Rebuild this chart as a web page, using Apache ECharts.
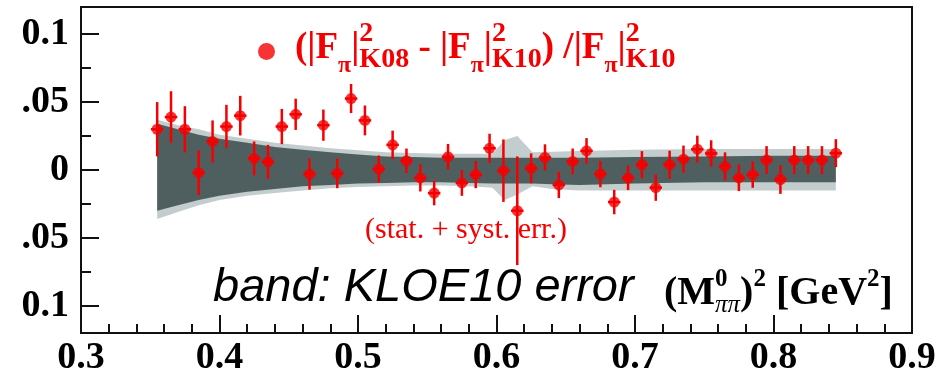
<!DOCTYPE html>
<html>
<head>
<meta charset="utf-8">
<script src="https://cdn.jsdelivr.net/npm/echarts@6/dist/echarts.min.js"></script>
<style>
  html, body { margin: 0; background: #fff; }
  #chart { width: 951px; height: 379px; }
</style>
</head>
<body>
<div id="chart"></div>
<script>
// ticks
const xTicks = [0.3, 0.4, 0.5, 0.6, 0.7, 0.8, 0.9];
const xTickLabels = ['0.3', '0.4', '0.5', '0.6', '0.7', '0.8', '0.9'];
const yTicks = [-0.1, -0.05, 0, 0.05, 0.1];
const yTickLabels = ['0.1', '.05', '0', '.05', '0.1'];
const yMinorTicks = [-0.075, -0.025, 0.025, 0.075];

// data points: (|F|^2 K08 - |F|^2 K10) / |F|^2 K10
const pointX = [0.355, 0.365, 0.375, 0.385, 0.395, 0.405, 0.415, 0.425, 0.435, 0.445,
                0.455, 0.465, 0.475, 0.485, 0.495, 0.505, 0.515, 0.525, 0.535, 0.545,
                0.555, 0.565, 0.575, 0.585, 0.595, 0.605, 0.615, 0.625, 0.635, 0.645,
                0.655, 0.665, 0.675, 0.685, 0.695, 0.705, 0.715, 0.725, 0.735, 0.745,
                0.755, 0.765, 0.775, 0.785, 0.795, 0.805, 0.815, 0.825, 0.835, 0.845];
const pointY = [0.030, 0.039, 0.030, -0.002, 0.021, 0.032, 0.040, 0.0085, 0.006, 0.032,
                0.041, -0.003, 0.033, -0.0024, 0.0526, 0.0365, 0.0007, 0.0185, 0.0068, -0.0058,
                -0.017, 0.0097, -0.0095, -0.0034, 0.016, -0.0005, -0.030, 0.0012, 0.0092, -0.011,
                0.0063, 0.0141, -0.003, -0.0236, -0.0058, 0.0039, -0.013, 0.0039, 0.008, 0.0153,
                0.0122, 0.0027, -0.0058, -0.0034, 0.0073, -0.007, 0.0073, 0.0073, 0.0073, 0.0124];
const pointErr = [0.020, 0.019, 0.017, 0.0165, 0.0155, 0.016, 0.0146, 0.0125, 0.0125, 0.013,
                  0.0115, 0.0115, 0.0115, 0.011, 0.0107, 0.011, 0.010, 0.0105, 0.009, 0.010,
                  0.009, 0.0095, 0.0095, 0.010, 0.0107, 0.023, 0.040, 0.011, 0.0097, 0.0097,
                  0.0095, 0.0094, 0.0097, 0.009, 0.009, 0.010, 0.0097, 0.0103, 0.010, 0.010,
                  0.0097, 0.0103, 0.0097, 0.0097, 0.0103, 0.0106, 0.0103, 0.0103, 0.0103, 0.0103];
const binHalf = 0.0045;

// KLOE10 error band
const bandX   = [0.355, 0.37, 0.385, 0.40, 0.42, 0.44, 0.46, 0.48, 0.50, 0.52, 0.54, 0.56,
                 0.58, 0.597, 0.606, 0.615, 0.626, 0.64, 0.66, 0.70, 0.75, 0.80, 0.845];
const lightHi = [0.037, 0.033, 0.030, 0.026, 0.023, 0.020, 0.018, 0.016, 0.0145, 0.013, 0.0125, 0.012,
                 0.012, 0.012, 0.022, 0.025, 0.013, 0.0135, 0.014, 0.015, 0.0155, 0.0155, 0.0155];
const lightLo = [-0.036, -0.031, -0.026, -0.022, -0.019, -0.017, -0.015, -0.0135, -0.0125, -0.012, -0.0115, -0.0115,
                 -0.012, -0.013, -0.022, -0.018, -0.012, -0.014, -0.015, -0.015, -0.015, -0.015, -0.015];
const darkHi  = [0.034, 0.030, 0.026, 0.023, 0.020, 0.017, 0.015, 0.013, 0.0115, 0.010, 0.0095, 0.009,
                 0.009, 0.009, 0.009, 0.009, 0.009, 0.009, 0.009, 0.0095, 0.010, 0.0105, 0.0105];
const darkLo  = [-0.030, -0.026, -0.022, -0.019, -0.016, -0.014, -0.012, -0.011, -0.010, -0.0095, -0.009, -0.009,
                 -0.0095, -0.010, -0.010, -0.010, -0.010, -0.0105, -0.011, -0.010, -0.009, -0.009, -0.009];

const RED = '#f50000';
const SERIF = 'Liberation Serif';

const pickLabel = (ticks, labels) => v => {
    const i = ticks.findIndex(t => Math.abs(t - v) < 1e-9);
    return i < 0 ? '' : labels[i];
};

// lay out text pieces with sub/superscripts side by side
const measureCtx = document.createElement('canvas').getContext('2d');
function formula(x0, yMid, parts, fill) {
    const out = [];
    let x = x0, lastX = x0;
    parts.forEach(p => {
        const font = `${p.it ? 'italic ' : ''}${p.b === false ? 'normal' : 'bold'} ${p.s}px "${p.f || SERIF}"`;
        measureCtx.font = font;
        const w = measureCtx.measureText(p.t).width;
        let px;
        if (p.stack) {
            px = lastX;
            x = Math.max(x, lastX + w);
        } else {
            px = x;
            lastX = x;
            x += w;
        }
        out.push({
            type: 'text', x: px, y: yMid + (p.dy || 0), z: 100,
            style: { text: p.t, font: font, fill: fill, verticalAlign: 'middle', align: 'left' }
        });
    });
    return out;
}

const legendParts = [
    { t: '(|F', s: 37 }, { t: 'π', s: 24, dy: 18 }, { t: '|', s: 37 },
    { t: '2', s: 28, dy: -14 }, { t: 'K08', s: 28, dy: 12, stack: true },
    { t: ' - |F', s: 37 }, { t: 'π', s: 24, dy: 18 }, { t: '|', s: 37 },
    { t: '2', s: 28, dy: -14 }, { t: 'K10', s: 28, dy: 12, stack: true },
    { t: ') /|F', s: 37 }, { t: 'π', s: 24, dy: 18 }, { t: '|', s: 37 },
    { t: '2', s: 28, dy: -14 }, { t: 'K10', s: 28, dy: 12, stack: true }
];
const titleParts = [
    { t: '(M', s: 40 }, { t: '0', s: 25, dy: -14 }, { t: 'ππ', s: 25, dy: 11, it: true, b: false, stack: true },
    { t: ')', s: 40 }, { t: '2', s: 25, dy: -14 },
    { t: ' [GeV', s: 40 }, { t: '2', s: 25, dy: -14 }, { t: ']', s: 40 }
];

const chart = echarts.init(document.getElementById('chart'));
chart.setOption({
    animation: false,
    backgroundColor: '#fff',
    grid: {
        left: 81, right: 39, top: 7, bottom: 46,
        show: true, borderColor: '#111', borderWidth: 2,
        outerBoundsMode: 'none'
    },
    legend: {
        data: ['ratio'],
        icon: 'circle',
        itemWidth: 17, itemHeight: 17,
        left: 253, top: 38,
        formatter: () => '',
        textStyle: { fontSize: 1 }
    },
    xAxis: {
        type: 'value', min: 0.3, max: 0.9, interval: 0.1,
        axisLine: { onZero: false, lineStyle: { color: '#111', width: 2 } },
        axisTick: { inside: true, length: 18, lineStyle: { color: '#111', width: 2 } },
        minorTick: { show: true, splitNumber: 5, length: 9, lineStyle: { color: '#111', width: 2 } },
        splitLine: { show: false },
        axisLabel: {
            margin: 6, fontSize: 38, fontWeight: 'bold', fontFamily: SERIF, color: '#000',
            formatter: pickLabel(xTicks, xTickLabels)
        }
    },
    yAxis: [{
        type: 'value', min: -0.12, max: 0.12, position: 'left',
        axisLine: { show: true, onZero: false, lineStyle: { color: '#111', width: 2 } },
        axisTick: { inside: true, length: 18, customValues: yTicks, lineStyle: { color: '#111', width: 2 } },
        splitLine: { show: false },
        axisLabel: {
            margin: 12, fontSize: 38, fontWeight: 'bold', fontFamily: SERIF, color: '#000',
            customValues: yTicks,
            formatter: pickLabel(yTicks, yTickLabels)
        }
    }, {
        type: 'value', min: -0.12, max: 0.12, position: 'left',
        axisLine: { show: false, onZero: false },
        axisTick: { inside: true, length: 10, customValues: yMinorTicks, lineStyle: { color: '#111', width: 2 } },
        splitLine: { show: false },
        axisLabel: { show: false }
    }],
    graphic: [
        ...formula(295, 48, legendParts, RED),
        ...formula(664, 294, titleParts, '#000'),
        {
            type: 'text', x: 213, y: 288, z: 100,
            style: { text: 'band: KLOE10 error', font: 'italic 47px "Liberation Sans"', fill: '#000', verticalAlign: 'middle' }
        },
        {
            type: 'text', x: 365, y: 230, z: 100,
            style: { text: '(stat. + syst. err.)', font: '30px "Liberation Serif"', fill: RED, verticalAlign: 'middle' }
        }
    ],
    series: [
        {
            name: 'band',
            type: 'custom',
            z: 1,
            data: [[0.6, 0]],
            renderItem: (params, api) => {
                const poly = (hi, lo) => bandX.map((x, i) => api.coord([x, hi[i]]))
                    .concat(bandX.map((x, i) => api.coord([x, lo[i]])).reverse());
                return {
                    type: 'group',
                    children: [
                        { type: 'polygon', shape: { points: poly(lightHi, lightLo) }, style: { fill: '#c3cdcd' } },
                        { type: 'polygon', shape: { points: poly(darkHi, darkLo) }, style: { fill: '#4f5f5f' } }
                    ]
                };
            }
        },
        {
            name: 'errors',
            type: 'custom',
            z: 3,
            data: pointX.map((x, i) => [x, pointY[i], pointErr[i]]),
            renderItem: (params, api) => {
                const x = api.value(0), y = api.value(1), e = api.value(2);
                const top = api.coord([x, y + e]), bot = api.coord([x, y - e]);
                const l = api.coord([x - binHalf, y]), r = api.coord([x + binHalf, y]);
                const st = { stroke: RED, lineWidth: 2.5 };
                return {
                    type: 'group',
                    children: [
                        { type: 'line', shape: { x1: top[0], y1: top[1], x2: bot[0], y2: bot[1] }, style: st },
                        { type: 'line', shape: { x1: l[0], y1: l[1], x2: r[0], y2: r[1] }, style: st }
                    ]
                };
            }
        },
        {
            name: 'ratio',
            type: 'scatter',
            z: 4,
            symbol: 'circle',
            symbolSize: 11,
            itemStyle: { color: RED },
            data: pointX.map((x, i) => [x, pointY[i]])
        }
    ]
});
</script>
</body>
</html>
